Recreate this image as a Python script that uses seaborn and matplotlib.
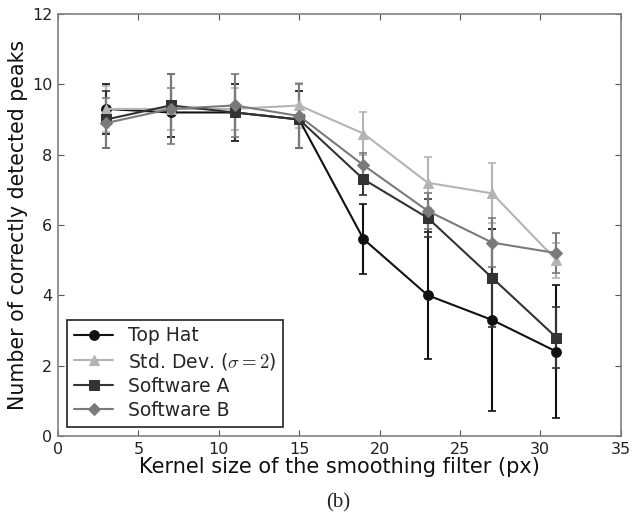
import numpy as np
import pandas as pd
import matplotlib
matplotlib.use("Agg")
import matplotlib.pyplot as plt
import seaborn as sns

kernel = [3, 7, 11, 15, 19, 23, 27, 31]
top_hat = [9.3, 9.2, 9.2, 9.0, 5.6, 4.0, 3.3, 2.4]
top_hat_err = [0.7, 0.7, 0.8, 0.8, 1.0, 1.8, 2.6, 1.9]
std_dev = [9.3, 9.3, 9.3, 9.4, 8.6, 7.2, 6.9, 5.0]
std_dev_err = [0.65, 0.6, 0.6, 0.65, 0.6, 0.73, 0.85, 0.5]
soft_a = [9.0, 9.4, 9.2, 9.0, 7.3, 6.2, 4.5, 2.8]
soft_a_err = [0.8, 0.9, 0.8, 0.8, 0.45, 0.55, 1.4, 0.87]
soft_b = [8.9, 9.3, 9.4, 9.1, 7.7, 6.4, 5.5, 5.2]
soft_b_err = [0.7, 1.0, 0.9, 0.9, 0.35, 0.5, 0.7, 0.57]

labels = ["Top Hat", r"Std. Dev. ($\sigma = 2$)", "Software A", "Software B"]
colors = ["#111111", "#b4b4b4", "#333333", "#7a7a7a"]
markers = ["o", "^", "s", "D"]
msizes = [7, 7, 7, 6.5]

series = [(top_hat, top_hat_err), (std_dev, std_dev_err), (soft_a, soft_a_err), (soft_b, soft_b_err)]

sns.set_style("ticks")
plt.rcParams["font.family"] = ["DejaVu Sans"]
plt.rcParams["mathtext.fontset"] = "cm"
plt.rcParams["xtick.direction"] = "in"
plt.rcParams["ytick.direction"] = "in"

fig = plt.figure(figsize=(6.33, 5.19), dpi=100)
ax = fig.add_axes([0.0916, 0.160, 0.889, 0.813])

for (vals, errs), c in zip(series, colors):
    ax.errorbar(kernel, vals, yerr=errs, fmt="none", ecolor=c, elinewidth=1.5,
                capsize=3, capthick=1.2, zorder=2)

for (vals, errs), lab, c, m, ms in zip(series, labels, colors, markers, msizes):
    df = pd.DataFrame({"k": kernel, "v": vals})
    sns.lineplot(data=df, x="k", y="v", ax=ax, color=c, marker=m, markersize=ms,
                 markeredgecolor=c, linewidth=1.5, label=lab, zorder=3)

ax.set_xlim(0, 35)
ax.set_ylim(0, 12)
ax.set_xticks(range(0, 36, 5))
ax.set_yticks(range(0, 13, 2))
ax.tick_params(axis="both", which="both", top=True, right=True, labelsize=11.5,
               length=4, width=0.8, color="#555555", pad=4, labelcolor="#222222")
for s in ax.spines.values():
    s.set_color("#808080")
    s.set_linewidth(1.2)

ax.set_xlabel("Kernel size of the smoothing filter (px)", fontsize=15, labelpad=0,
              color="#111111")
ax.set_ylabel("Number of correctly detected peaks", fontsize=14.8, color="#111111")
ax.yaxis.set_label_coords(-0.054, 0.5)

leg = ax.legend(loc="lower left", fontsize=13.5, frameon=True, fancybox=False,
                borderpad=0.35, handlelength=2.1, handletextpad=0.8,
                labelspacing=0.28, borderaxespad=0.5)
leg.get_frame().set_edgecolor("#222222")
leg.get_frame().set_linewidth(1.2)
leg.get_frame().set_alpha(1)

fig.text(0.534, 0.031, "(b)", ha="center", va="center", fontsize=15,
         family=["Liberation Serif", "DejaVu Serif"])

fig.savefig("out.png", dpi=100)
